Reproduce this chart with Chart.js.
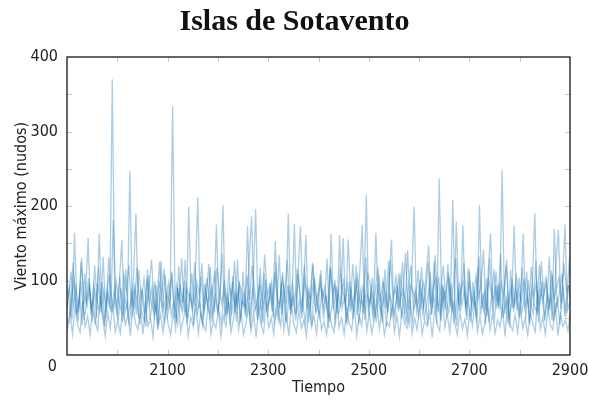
<!DOCTYPE html>
<html>
<head>
<meta charset="utf-8">
<script src="https://cdn.jsdelivr.net/npm/chart.js@4/dist/chart.umd.min.js"></script>
<style>
  html, body { margin: 0; padding: 0; background: #fff; }
  #chart { display: block; }
</style>
</head>
<body>
<canvas id="chart" width="589" height="401"></canvas>
<script>
var labelFont = "'Liberation Sans Narrow', 'DejaVu Sans Condensed', 'Open Sans', sans-serif";
var lineColor = "rgba(31, 119, 180, 0.37)";

// años cada 5 (1900 .. 2900)
var years = [];
for (let y = 1900; y <= 2900; y += 5) years.push(y);

// serie A
var runA = [
  60, 95, 48, 164, 55, 82, 40, 110, 66, 90,
  45, 120, 72, 58, 98, 38, 85, 62, 370, 70,
  52, 105, 44, 78, 60, 247, 50, 92, 68, 41,
  88, 56, 115, 47, 73, 99, 35, 80, 62, 108,
  53, 76, 334, 64, 42, 95, 70, 128, 49, 84,
  61, 102, 212, 57, 38, 88, 66, 118, 45, 79,
  58, 93, 201, 52, 74, 40, 106, 63, 87, 48,
  112, 59, 81, 37, 96, 196, 54, 72, 44, 101,
  65, 83, 50, 124, 58, 39, 90, 69, 190, 55,
  77, 46, 109, 62, 85, 161, 43, 71, 98, 57,
  66, 114, 48, 80, 36, 163, 60, 92, 55, 74,
  103, 45, 68, 87, 58, 120, 41, 76, 64, 215,
  52, 89, 70, 44, 107, 61, 79, 38, 95, 155,
  56, 73, 110, 49, 84, 63, 40, 99, 199, 58,
  76, 118, 47, 69, 91, 54, 126, 42, 237, 65,
  82, 51, 104, 60, 72, 39, 97, 66, 88, 47,
  113, 58, 75, 43, 201, 62, 86, 52, 130, 70,
  48, 94, 61, 248, 55, 80, 37, 102, 67, 84,
  50, 117, 63, 78, 41, 92, 190, 57, 71, 99,
  46, 83, 64, 108, 53, 75, 40, 96, 175, 60,
  72
];

// serie B
var runB = [
  88, 52, 124, 70, 45, 99, 63, 80, 157, 58,
  74, 41, 96, 67, 132, 50, 83, 59, 181, 77,
  46, 90, 62, 115, 55, 71, 101, 189, 49, 86,
  64, 38, 107, 73, 57, 94, 42, 126, 61, 79,
  97, 54, 70, 44, 119, 66, 85, 51, 199, 72,
  40, 91, 63, 105, 56, 78, 122, 48, 68, 175,
  60, 42, 87, 71, 116, 53, 79, 45, 100, 64,
  83, 50, 128, 186, 57, 68, 93, 41, 110, 62,
  76, 98, 45, 69, 134, 55, 81, 43, 88, 65,
  176, 58, 72, 49, 121, 61, 86, 39, 103, 70,
  52, 88, 74, 129, 45, 67, 95, 56, 161, 63,
  78, 41, 99, 64, 85, 53, 112, 174, 47, 82,
  68, 104, 50, 90, 72, 43, 115, 59, 81, 66,
  48, 94, 62, 125, 55, 141, 73, 46, 87, 69,
  101, 57, 80, 40, 112, 63, 134, 75, 52, 95,
  61, 122, 70, 208, 48, 86, 59, 174, 64, 77,
  45, 98, 66, 119, 54, 83, 41, 107, 163, 60,
  89, 68, 136, 50, 76, 42, 114, 63, 92, 57,
  81, 163, 48, 101, 69, 55, 127, 44, 86, 72,
  106, 59, 80, 45, 122, 168, 62, 88, 51, 94,
  66
];

// serie C
var runC = [
  42, 76, 101, 55, 68, 130, 47, 72, 93, 61,
  84, 50, 163, 66, 43, 79, 109, 57, 88, 64,
  98, 154, 53, 71, 40, 86, 62, 118, 75, 56,
  45, 102, 69, 91, 52, 77, 125, 60, 44, 83,
  66, 112, 49, 87, 73, 58, 100, 41, 79, 63,
  124, 55, 70, 46, 96, 68, 52, 85, 113, 59,
  74, 136, 48, 81, 61, 99, 56, 128, 43, 72,
  65, 173, 53, 89, 70, 47, 117, 60, 84, 51,
  97, 67, 153, 58, 76, 111, 46, 94, 62, 80,
  54, 105, 173, 68, 42, 88, 73, 121, 57, 83,
  95, 61, 78, 50, 116, 70, 44, 86, 64, 157,
  59, 155, 73, 48, 102, 66, 88, 55, 131, 62,
  80, 45, 164, 71, 56, 98, 63, 126, 49, 76,
  108, 58, 85, 67, 42, 93, 120, 60, 74, 52,
  87, 66, 110, 147, 54, 79, 62, 105, 46, 88,
  71, 57, 95, 42, 179, 64, 81, 124, 53, 99,
  68, 85, 50, 132, 74, 59, 103, 44, 78, 115,
  62, 96, 55, 83, 128, 49, 71, 173, 60, 104,
  57, 76, 112, 44, 90, 66, 58, 121, 80, 51,
  74, 132, 47, 169, 63, 84, 109, 56, 79, 131,
  58
];

// serie D (banda baja)
var runD = [
  35, 58, 28, 66, 41, 30, 72, 38, 52, 27,
  61, 44, 33, 79, 48, 25, 57, 36, 68, 31,
  46, 29, 63, 40, 54, 26, 70, 43, 34, 59,
  28, 65, 39, 49, 24, 74, 37, 55, 30, 62,
  42, 27, 58, 35, 90, 31, 47, 64, 26, 51,
  38, 69, 29, 56, 41, 33, 77, 28, 45, 36,
  60, 25, 52, 39, 71, 30, 48, 84, 34, 57,
  27, 44, 66, 32, 55, 24, 63, 40, 29, 73,
  37, 50, 28, 61, 45, 96, 33, 54, 26, 68,
  41, 30, 59, 36, 47, 25, 70, 38, 53, 29,
  64, 34, 45, 27, 58, 40, 31, 75, 37, 50,
  28, 62, 43, 33, 68, 26, 52, 39, 81, 32,
  56, 29, 47, 72, 35, 60, 27, 44, 38, 66,
  31, 53, 25, 61, 42, 36, 74, 29, 50, 34,
  67, 28, 46, 39, 57, 24, 63, 41, 32, 92,
  37, 55, 30, 69, 43, 27, 58, 35, 48, 26,
  62, 39, 71, 31, 52, 28, 45, 66, 34, 56,
  29, 47, 38, 60, 25, 73, 41, 33, 54, 30,
  65, 36, 49, 27, 58, 42, 31, 88, 35, 51,
  28, 63, 40, 34, 70, 26, 55, 38, 47, 32,
  59
];

// serie E (banda media)
var runE = [
  78, 112, 66, 92, 58, 125, 84, 70, 103, 61,
  95, 74, 118, 57, 86, 68, 131, 80, 64, 99,
  72, 59, 108, 83, 121, 65, 90, 54, 114, 77,
  102, 63, 88, 128, 71, 56, 97, 82, 116, 60,
  85, 106, 62, 94, 73, 130, 58, 89, 76, 110,
  67, 98, 81, 123, 60, 104, 75, 91, 57, 117,
  86, 69, 101, 55, 92, 78, 126, 64, 95, 83,
  59, 107, 74, 120, 87, 62, 99, 71, 135, 80,
  93, 58, 111, 76, 66, 103, 84, 127, 61, 97,
  73, 115, 85, 57, 100, 79, 64, 124, 90, 68,
  108, 75, 92, 60, 119, 83, 97, 66, 113, 87,
  71, 96, 58, 122, 78, 104, 63, 91, 74, 109,
  95, 61, 86, 118, 70, 100, 82, 57, 128, 77,
  89, 66, 105, 79, 137, 62, 94, 85, 72, 114,
  60, 98, 81, 125, 67, 91, 103, 58, 87, 120,
  76, 110, 64, 94, 130, 71, 88, 99, 63, 117,
  82, 69, 106, 77, 93, 141, 60, 101, 86, 74,
  112, 65, 97, 80, 121, 68, 90, 58, 109, 84,
  72, 100, 88, 62, 118, 79, 95, 67, 126, 81,
  98, 61, 113, 76, 89, 104, 70, 123, 85, 93,
  78
];

var yTicks = [100, 200, 300, 400];
var xTicks = [2100, 2300, 2500, 2700, 2900];

function toPoints(vals, shift) {
  return vals.map((v, i) => ({ x: years[i] + shift, y: v }));
}

// marco, marcas interiores y el "0"
const frame = {
  id: "frame",
  afterDraw(chart) {
    const ctx = chart.ctx;
    const a = chart.chartArea;
    const xs = chart.scales.x;
    const ys = chart.scales.y;
    ctx.save();
    ctx.strokeStyle = "#c8c8c8";
    ctx.lineWidth = 1;
    ctx.beginPath();
    for (let v = 2000; v <= 2800; v += 100) {
      let px = Math.round(xs.getPixelForValue(v)) + 0.5;
      ctx.moveTo(px, a.bottom); ctx.lineTo(px, a.bottom - 5);
      ctx.moveTo(px, a.top); ctx.lineTo(px, a.top + 5);
    }
    for (let v = 50; v <= 350; v += 50) {
      let py = Math.round(ys.getPixelForValue(v)) + 0.5;
      ctx.moveTo(a.left, py); ctx.lineTo(a.left + 5, py);
      ctx.moveTo(a.right, py); ctx.lineTo(a.right - 5, py);
    }
    ctx.stroke();
    ctx.strokeStyle = "#000";
    ctx.lineWidth = 1.2;
    ctx.strokeRect(a.left, a.top, a.right - a.left, a.bottom - a.top);
    ctx.fillStyle = "#222";
    ctx.font = "16px " + labelFont;
    ctx.textAlign = "right";
    ctx.textBaseline = "middle";
    ctx.fillText("0", a.left - 10, ys.getPixelForValue(0) + 12);
    ctx.restore();
  },
};

function run(vals, shift) {
  return { data: toPoints(vals, shift), borderColor: lineColor, borderWidth: 1.3 };
}

const ctx = document.getElementById("chart");
new Chart(ctx, {
  type: "line",
  data: {
    datasets: [
      run(runA, 0),
      run(runB, 2),
      run(runC, 4),
      run(runD, 1),
      run(runE, 3),
    ],
  },
  options: {
    responsive: false,
    animation: false,
    devicePixelRatio: 1,
    layout: { padding: { left: 0, right: 0, top: 0, bottom: 0 } },
    elements: { point: { radius: 0 }, line: { tension: 0 } },
    plugins: {
      legend: { display: false },
      tooltip: { enabled: false },
      title: {
        display: true,
        text: "Islas de Sotavento",
        color: "#111",
        font: { family: "'Liberation Serif', 'DejaVu Serif', serif", size: 30, weight: "bold" },
        padding: { top: 4, bottom: 17 },
      },
    },
    scales: {
      x: {
        type: "linear",
        min: 1900,
        max: 2900,
        afterFit: (s) => { s.height = 46; s.paddingLeft = 0; s.paddingRight = 19; },
        afterBuildTicks: (s) => { s.ticks = xTicks.map((v) => ({ value: v })); },
        grid: { display: false, drawTicks: false },
        border: { display: false },
        ticks: {
          autoSkip: false,
          maxRotation: 0,
          padding: 6,
          color: "#222",
          font: { family: labelFont, size: 16 },
          callback: (v) => String(v),
        },
        title: {
          display: true,
          text: "Tiempo",
          color: "#222",
          font: { family: labelFont, size: 16 },
          padding: { top: 0, bottom: 4 },
        },
      },
      y: {
        min: 0,
        max: 400,
        afterFit: (s) => { s.width = 67; },
        afterBuildTicks: (s) => { s.ticks = yTicks.map((v) => ({ value: v })); },
        grid: { display: false, drawTicks: false },
        border: { display: false },
        ticks: {
          padding: 9,
          color: "#222",
          font: { family: labelFont, size: 16 },
          callback: (v) => String(v),
        },
        title: {
          display: true,
          text: "Viento máximo (nudos)",
          color: "#222",
          font: { family: labelFont, size: 16 },
          padding: { top: 12, bottom: 0 },
        },
      },
    },
  },
  plugins: [frame],
});
</script>
</body>
</html>
